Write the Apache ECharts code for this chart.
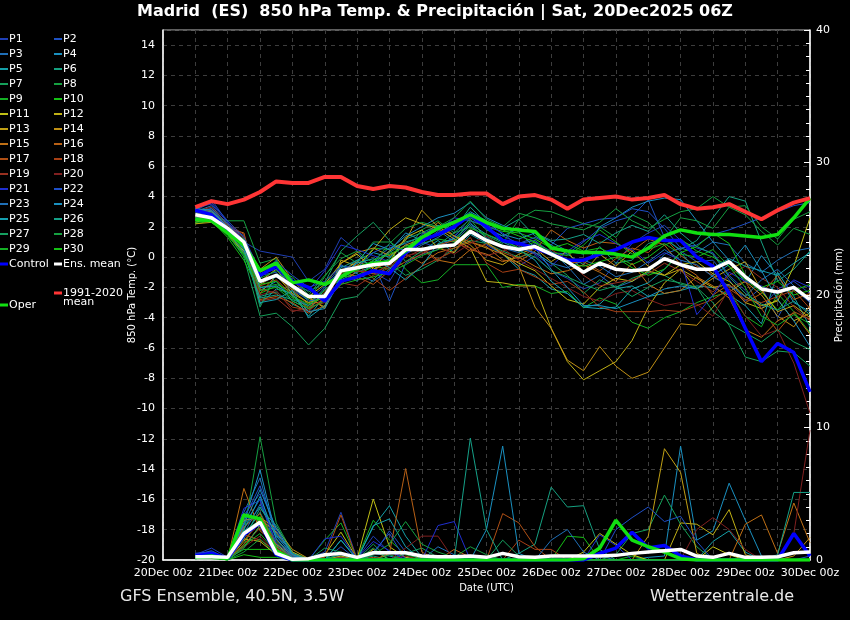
<!DOCTYPE html>
<html><head><meta charset="utf-8">
<script src="https://cdn.jsdelivr.net/npm/echarts@6/dist/echarts.min.js"></script>
<style>html,body{margin:0;padding:0;background:#000}#c{width:850px;height:620px}</style>
</head><body><div id="c"></div>
<script>
// forecast hours since 20Dec 00z
const hours=[12,18,24,30,36,42,48,54,60,66,72,78,84,90,96,102,108,114,120,126,132,138,144,150,156,162,168,174,180,186,192,198,204,210,216,222,228,234,240];
const dateLabels=['20Dec 00z','21Dec 00z','22Dec 00z','23Dec 00z','24Dec 00z','25Dec 00z','26Dec 00z','27Dec 00z','28Dec 00z','29Dec 00z','30Dec 00z'];
const leftTicks=[-20,-18,-16,-14,-12,-10,-8,-6,-4,-2,0,2,4,6,8,10,12,14];
const rightTicks=[0,10,20,30,40];
const memberNames=['P1','P2','P3','P4','P5','P6','P7','P8','P9','P10','P11','P12','P13','P14','P15','P16','P17','P18','P19','P20','P21','P22','P23','P24','P25','P26','P27','P28','P29','P30'];
const memberColors=['#1f3fb5','#1f52c2','#1f6fb8','#1a90c0','#15a0a8','#15a080','#15a05a','#15a040','#15b025','#15c015','#c0c015','#c0b015','#c0a015','#c09015','#c07015','#b86015','#b05015','#a84015','#983020','#802020','#1f2fd0','#1f50c8','#1f70b8','#1a90c0','#15a0b0','#15a088','#15a060','#15a040','#15b025','#15c015'];

// 850 hPa temperature (°C)
const t_P1=[3.1,3.8,2.3,1.0,0.4,0.2,0.0,-1.6,-0.8,1.3,0.4,-1.0,-1.6,0.2,1.0,0.6,1.4,2.3,0.8,0.2,-0.6,0.1,-0.9,-1.4,-2.1,-1.7,-0.4,0.9,1.6,2.1,1.1,0.6,0.3,-1.2,-2.2,-3.4,-2.1,-1.6,-2.4];
const t_P2=[2.9,3.2,2.0,0.9,-1.2,-1.0,-2.2,-2.8,-1.9,-0.6,-0.9,-0.3,-2.9,-0.4,0.2,0.5,1.3,2.6,1.9,1.4,0.9,1.1,0.3,0.2,1.0,1.9,2.4,2.7,3.8,1.3,0.4,-0.3,-0.2,-1.5,-2.9,-2.0,-4.0,-2.1,-3.0];
const t_P3=[3.0,3.4,2.1,1.4,-1.4,-0.2,-2.6,-3.2,-2.0,-0.8,-1.6,-0.2,0.6,0.9,1.4,1.8,1.0,2.1,1.3,0.6,0.3,0.9,0.4,-0.6,-1.8,-1.2,-2.0,-1.6,-1.0,0.2,0.6,0.3,1.0,0.8,-0.4,-1.0,-0.2,0.4,0.6];
const t_P4=[3.2,3.0,1.9,0.6,-2.2,-1.6,-2.9,-3.4,-2.4,-1.2,-0.6,-0.4,0.4,1.6,1.1,1.9,2.2,3.0,2.4,1.5,1.2,1.6,1.0,0.4,0.2,2.0,2.6,3.3,3.7,3.9,3.8,2.4,1.0,-0.2,-1.7,0.1,-1.2,-3.0,-3.6];
const t_P5=[2.8,3.0,1.8,1.1,-3.1,-2.1,-2.4,-3.9,-2.6,-1.0,-0.2,0.3,0.0,0.8,0.4,1.1,0.3,1.5,0.9,0.2,-0.8,-1.2,-2.1,-2.4,-3.3,-3.1,-2.1,-1.9,-2.6,-2.4,-2.2,-1.9,-2.0,-2.5,-3.2,-4.4,-1.0,-2.6,-4.6];
const t_P6=[2.6,2.9,1.7,0.2,-2.6,-2.3,-3.1,-3.6,-2.1,-1.5,-1.0,-0.6,-0.1,1.2,1.6,2.1,1.8,3.3,2.2,1.9,2.5,1.4,0.8,0.2,-0.5,0.7,-0.4,-0.2,0.9,1.2,0.5,1.1,2.6,4.0,3.7,1.0,-1.6,-0.8,0.4];
const t_P7=[2.4,2.6,1.5,0.0,-3.9,-3.7,-4.6,-5.8,-4.7,-2.8,-2.6,-1.5,-0.4,-1.2,-0.8,-0.2,0.6,1.1,0.9,0.4,0.0,0.3,-0.4,-1.2,-2.4,-1.5,-2.0,-1.4,-1.0,-1.2,-1.8,-2.0,-3.0,-4.5,-6.6,-6.9,-6.2,-6.3,-7.2];
const t_P8=[2.5,2.7,2.4,2.4,-0.4,-0.1,-2.0,-2.8,-1.3,0.3,-0.4,1.0,1.0,0.4,1.8,2.4,1.6,2.0,1.4,0.9,2.5,3.1,3.0,2.6,2.2,2.0,1.3,2.8,2.3,1.2,2.6,2.4,1.9,3.3,3.4,2.0,1.2,2.5,3.0];
const t_P9=[2.3,2.5,1.6,0.5,-2.0,-1.8,-2.3,-3.0,-2.2,-1.4,-0.8,0.6,0.5,-0.8,-1.7,-1.5,-0.5,-0.5,-0.5,-2.0,-1.8,-1.9,-2.4,-2.25,-3.35,-2.7,-3.1,-4.3,-4.7,-4.0,-3.6,-3.0,-2.6,-2.3,-3.9,-4.6,-2.4,-3.6,-5.0];
const t_P10=[2.2,2.4,1.3,-0.2,-2.4,-1.9,-2.7,-3.3,-2.5,-1.3,-1.2,-0.6,-0.8,0.6,0.9,1.2,1.0,2.4,2.0,1.7,1.6,1.2,0.6,0.9,0.4,0.6,0.1,-0.5,0.0,0.8,1.2,0.4,0.0,-0.6,-1.5,-2.3,-3.5,-2.2,-1.8];
const t_P11=[2.3,2.6,1.6,0.4,-1.0,-0.4,-2.0,-2.6,-1.8,-0.4,0.2,-0.8,-0.3,1.3,1.8,0.6,0.3,1.8,1.0,0.2,-0.4,-0.9,-1.9,-2.8,-3.1,-2.0,-1.4,-1.6,-0.9,-1.2,-0.5,-0.3,-1.1,-1.6,-2.6,-3.2,-2.9,-0.6,2.6];
const t_P12=[2.4,2.5,1.7,0.7,-1.6,-0.8,-2.1,-2.7,-3.3,-0.2,-0.6,0.5,1.8,2.6,2.2,1.9,1.2,0.6,-1.6,-1.7,-1.9,-1.9,-4.7,-6.9,-8.1,-7.5,-6.9,-5.5,-3.3,-1.7,-0.8,-1.4,-2.0,-1.8,-3.0,-3.4,-2.8,-4.2,-3.7];
const t_P13=[2.2,2.3,1.5,0.3,-1.8,-1.2,-2.4,-3.0,-2.7,-1.0,-0.3,-0.7,0.4,1.1,3.1,2.0,1.4,0.8,-0.2,-0.5,0.2,0.6,-0.3,0.4,-1.0,0.2,-0.6,0.4,-0.6,-1.2,-0.8,-2.1,-1.4,-0.8,-0.3,-2.2,-3.6,-3.2,-4.0];
const t_P14=[2.5,2.9,2.0,1.1,-0.8,0.0,-1.5,-2.6,-3.4,-0.4,0.3,0.6,0.1,0.8,1.2,2.3,1.4,1.0,0.6,0.2,-0.6,-3.3,-4.7,-6.8,-7.5,-5.9,-7.2,-8.0,-7.6,-6.0,-4.4,-4.5,-3.3,-2.3,-1.6,-2.5,-3.9,-4.6,-3.2];
const t_P15=[2.7,2.8,1.9,1.6,-2.4,-1.2,-2.2,-3.1,-2.9,-1.8,-0.9,-1.1,-0.5,0.3,0.6,-0.2,-0.4,0.5,0.2,-0.3,0.0,-0.6,-1.1,-0.9,-0.5,-1.0,-1.6,-0.4,-1.8,-2.4,-2.2,-1.3,-1.9,-2.7,-4.8,-5.3,-4.2,-3.7,-5.1];
const t_P16=[2.6,2.7,1.8,0.8,-2.8,-2.6,-3.0,-3.7,-3.2,-1.6,-1.4,-0.9,-0.2,0.2,-0.4,0.3,0.6,1.0,0.7,-0.2,-0.3,0.4,1.8,1.1,0.6,1.0,0.9,0.4,1.2,0.8,-0.5,-1.2,-2.5,-1.8,-3.0,-2.4,-1.2,-2.8,-2.4];
const t_P17=[2.9,3.1,2.0,1.2,-1.9,-1.5,-2.5,-3.4,-2.3,-0.9,-1.3,-1.8,-0.9,-0.3,0.2,0.8,1.1,0.4,0.9,0.3,-0.1,0.6,0.2,-0.4,-0.3,-0.9,-0.1,0.6,0.3,1.3,0.1,-0.6,-1.2,-2.0,-1.6,-3.4,-4.9,-3.6,-4.1];
const t_P18=[2.8,3.0,2.1,1.3,-2.1,-2.4,-3.3,-3.5,-2.8,-1.1,-0.5,-1.4,-2.2,-1.4,-0.6,-0.1,0.4,1.3,-0.4,-1.0,-0.8,-1.3,-1.8,-1.6,-2.3,-3.3,-3.6,-3.6,-3.6,-3.5,-3.6,-3.2,-2.8,-2.1,-2.8,-3.0,-2.6,-2.2,-3.4];
const t_P19=[3.0,3.3,2.2,1.5,-2.9,-2.7,-3.6,-3.3,-3.0,-1.7,-1.9,-1.2,-0.7,0.0,0.5,-0.3,0.9,0.6,0.1,0.4,0.8,0.2,0.5,-0.2,-1.2,-1.9,-1.7,-1.5,-1.1,-0.4,-0.9,-1.6,-2.3,-1.2,-0.6,-1.4,-2.0,-3.3,-4.2];
const t_P20=[2.7,2.9,1.9,1.0,-2.5,-2.2,-3.5,-3.6,-2.6,-1.2,-0.9,-1.0,-0.6,0.1,0.3,0.7,0.2,0.9,1.4,0.6,-0.2,-0.8,-1.4,-2.0,-2.6,-2.9,-2.4,-2.2,-2.8,-3.2,-3.0,-3.1,-3.9,-2.1,-3.9,-5.2,-4.8,-7.0,-10.3];
const t_P21=[3.3,3.5,2.3,1.1,-1.1,-0.8,-1.9,-2.2,-0.9,0.8,0.5,0.1,-0.3,0.5,0.9,1.7,2.6,2.4,2.1,1.6,0.7,0.2,-0.6,0.4,1.1,1.5,0.9,0.5,-0.4,0.3,-0.2,-3.8,-2.5,-1.0,-1.6,-1.9,-2.4,-1.5,-2.0];
const t_P22=[3.1,3.6,2.4,1.3,-0.9,-0.3,-1.2,-2.0,-1.6,-0.6,-0.7,0.3,0.8,0.4,1.5,2.0,2.4,2.7,2.2,1.0,0.9,1.3,0.8,1.9,2.2,2.5,2.6,3.2,3.0,1.9,0.6,0.8,1.5,1.8,2.2,2.6,3.0,3.4,3.6];
const t_P23=[3.0,3.2,2.2,0.9,-1.7,-1.3,-2.0,-2.9,-2.7,-0.5,-1.1,-1.6,-0.8,0.2,0.8,1.3,2.0,2.9,2.0,1.2,0.6,0.3,-0.4,-0.7,-0.2,-0.6,-1.3,-1.0,-0.3,0.5,-0.2,-0.5,-1.3,-1.9,-2.6,-1.5,-0.8,-1.9,-2.9];
const t_P24=[3.2,3.1,2.0,0.7,-2.0,-1.9,-2.5,-3.6,-3.4,-1.4,-0.3,0.9,0.5,1.4,2.0,2.6,2.9,3.6,2.6,2.1,1.7,0.6,-0.8,-2.0,-3.2,-3.2,-3.4,-3.0,-2.6,-2.1,-1.9,-2.1,-1.2,-0.5,0.8,-0.9,-2.8,-4.2,-5.9];
const t_P25=[2.9,3.0,1.9,0.5,-3.0,-2.8,-2.2,-4.0,-3.2,-1.3,-0.4,-0.1,-0.7,-1.5,-0.6,0.9,1.2,2.2,1.5,1.0,0.5,-0.2,-1.6,-2.4,-3.3,-3.4,-3.3,-2.1,-1.7,-0.8,0.3,-0.9,-0.7,-0.1,-0.6,-0.9,-1.2,-0.4,0.3];
const t_P26=[2.6,2.8,1.7,0.3,-2.7,-2.5,-2.8,-3.2,-2.4,-0.7,-0.2,-0.5,0.3,1.0,1.3,1.5,2.3,2.8,1.8,1.4,1.9,1.6,1.1,1.2,1.5,0.9,1.6,2.1,1.7,2.8,1.6,0.7,0.2,-1.3,-2.4,-3.1,-3.5,-2.9,-3.8];
const t_P27=[2.4,2.5,1.6,0.9,-3.3,-1.1,-1.5,-2.3,-1.7,0.4,1.4,2.3,1.1,-0.3,0.4,0.8,1.6,2.5,1.2,0.8,0.4,0.0,-0.9,-1.3,-1.8,-2.2,-1.9,-2.6,-2.0,-1.5,-1.7,-2.0,-3.6,-4.4,-5.0,-5.6,-4.8,-5.6,-6.1];
const t_P28=[2.5,2.6,1.8,1.2,-1.4,-0.9,-1.3,-2.5,-1.2,-0.1,0.4,-0.4,0.9,1.9,2.3,2.0,2.6,3.7,2.5,2.0,2.9,2.6,2.2,2.0,1.8,2.3,3.2,2.4,1.9,2.5,3.0,3.2,4.0,3.3,2.8,1.7,0.8,1.9,1.5];
const t_P29=[2.3,2.4,1.4,0.2,-2.2,-2.0,-2.9,-3.4,-2.9,-1.8,-1.5,-1.3,-1.0,-0.5,0.1,0.5,0.9,1.9,1.5,1.1,0.6,1.0,0.3,0.1,0.8,1.8,1.0,0.2,0.5,0.9,0.2,0.0,0.5,-0.6,-2.0,-3.9,-4.5,-3.8,-4.4];
const t_P30=[2.4,2.5,1.5,0.1,-1.8,-1.6,-2.6,-3.1,-2.6,-1.0,-0.9,-0.2,0.2,0.7,1.1,1.6,2.1,2.6,2.2,1.8,1.4,1.0,0.1,-0.4,-0.6,-0.3,0.0,-0.7,-1.2,-0.8,0.3,0.7,1.6,0.9,-1.2,-2.0,-1.6,-2.5,-2.2];
const t_Control=[3.1,2.8,1.8,0.8,-1.2,-0.6,-1.6,-2.0,-2.9,-1.6,-1.3,-0.9,-1.1,0.3,1.1,1.5,2.0,2.8,2.0,1.1,0.9,0.6,0.2,-0.2,-0.2,0.2,0.5,1.0,1.3,1.1,1.1,0.0,-0.6,-2.4,-4.7,-6.9,-5.7,-6.3,-8.9];
const t_Mean=[2.8,2.6,1.9,1.0,-1.6,-1.2,-1.9,-2.6,-2.6,-0.9,-0.7,-0.5,-0.4,0.5,0.5,0.7,0.8,1.7,1.1,0.7,0.5,0.7,0.2,-0.3,-1.0,-0.4,-0.8,-0.9,-0.8,-0.1,-0.5,-0.8,-0.8,-0.3,-1.3,-2.1,-2.3,-2.0,-2.8];
const t_Oper=[2.5,2.4,1.6,0.8,-0.9,-0.4,-1.7,-1.5,-1.8,-1.3,-0.7,-0.4,-0.3,0.4,1.3,1.9,2.3,2.8,2.3,1.9,1.8,1.7,0.6,0.4,0.3,0.3,0.2,0.0,0.6,1.4,1.8,1.6,1.5,1.5,1.4,1.3,1.5,2.6,3.9];
const t_Clim=[3.3,3.7,3.5,3.8,4.3,5.0,4.9,4.9,5.3,5.3,4.7,4.5,4.7,4.6,4.3,4.1,4.1,4.2,4.2,3.5,4.0,4.1,3.8,3.2,3.8,3.9,4.0,3.8,3.9,4.1,3.5,3.2,3.3,3.5,3.0,2.5,3.1,3.6,3.9];

// precipitation (mm)
const p_P1=[0.4,0.9,0.2,3.4,5.0,1.0,0.2,0.1,0.6,3.6,0.1,1.8,0.6,0.2,0,0,0,0,0,0,0,0,0,0,0,0,0,0,0,0,0,0,0,0,0,0,0,0,0];
const p_P2=[0.5,0.6,0.1,2.6,4.6,0.8,0,0,0,1.0,0,0.4,2.2,0.6,0,0,0,0,0,0,0,0,0,0,0,0,0,0,0,0,0,0,0,0,0,0,0,0,0.3];
const p_P3=[0.4,0.5,0.2,3.6,6.2,1.6,0.3,0,0.1,0.4,0,0,0,0,0,1.0,0.4,0,0,0,0,0,0,0,0,0.3,0,0,0,0,0,0,0,0,0,0,0,0,0];
const p_P4=[0.3,0.4,0.1,2.8,6.8,1.8,0.4,0.1,0,0.2,0,0.5,0.3,0,0,0,0,0,0,0,0,0,0,0,0,0,0,0,0.2,0.3,8.6,1.5,2.2,5.8,3.0,0.3,0,0,0];
const p_P5=[0.3,0.3,0.1,2.4,4.0,2.0,0.5,0,0,1.5,0.1,2.5,4.1,1.8,0.2,0,0,0,0,0,0,0,0,0,0,0,0,0,0,0,0,0,1.4,2.2,0.6,0,0,0,0];
const p_P6=[0.2,0.3,0,1.8,3.6,1.2,0.2,0,0,0,0,0.3,0,0,0,0,0,0.2,0,0,0.5,1.2,5.5,4.0,4.1,0.8,0,0,0,0,0,0,0,0,0,0,0,0,0];
const p_P7=[0.3,0.2,0.1,2.2,3.0,0.6,0,0,0.9,0.6,0,1.2,0,0.5,0.9,0.2,0,0,0,0,0,0,0,0,0,0,0.4,2.0,2.3,4.9,2.7,1.0,0,0,0,0,0,0,0];
const p_P8=[0.2,0.3,0,2.0,9.3,2.8,0.6,0.1,0,0.3,0,0,0.4,0,0,0,0,0,0,0,0,0,0,0,0,0,0,0,0,0,0,0,0,0,0,0,0,0,0];
const p_P9=[0.1,0.2,0,1.2,3.3,1.4,0.1,0,1.5,2.8,0.1,3.0,1.5,0.4,0.1,0,0,0,0,0,0,0,0,0,0,0,0,0.3,0,0,0,0,0,0,0,0,0,0,0];
const p_P10=[0.2,0.2,0.1,0.8,0.8,0.8,0.2,0,0.3,0,0,0,0,0,0,0,0,0,0,0,0,0,0,1.8,1.7,0,0,0,0,0,0,0,0,0,0,0,0,0,0];
const p_P11=[0.3,0.3,0.1,1.6,1.4,0.4,0.1,0,0.4,2.1,0.1,4.6,1.0,0.2,0,0,0,0,0,0,0,0,0,0,0.6,2.0,1.2,0.4,0,0,0,0,1.0,0.4,0,0,0,0,0];
const p_P12=[0.3,0.4,0.1,1.0,2.6,1.2,0.2,0,0,0,0,0.8,0,0,0,0,0,0,0,0,0,0,0,0,0,0,0,0,0,0,2.8,2.7,1.9,3.8,0.4,0,0,0,0];
const p_P13=[0.2,0.3,0,1.4,3.1,2.1,0.6,0,0,0.3,0,0,0,0,0.2,0,0,0,0,0,0,0,0,0,0,0,0,0,1.8,8.4,6.6,0.5,0,0,0,0,0,0,0];
const p_P14=[0.4,0.5,0.2,3.0,3.2,2.4,0.8,0.1,0,0,0,0,0,0,0,0.3,0,0,0,0,0,0,0,0,0,0,0,0,0,0,0,0,0,0,0,0,0,0.3,1.7];
const p_P15=[0.3,0.3,0.1,5.4,2.2,1.2,0.4,0,0,0,0,0,0,0,0,0,0,0,0,0,0,0,0,0,0,0,0,0,0,0,0,0,0,0,2.7,3.4,0.5,4.3,1.3];
const p_P16=[0.3,0.4,0.1,2.5,3.5,1.0,0.3,0,0,0,0,0,0.5,6.9,0.6,0,0.8,0.2,0,0,0,0,0,0,0,0,0,0,0,0,0,0,0,0,0,0,0,0,0];
const p_P17=[0.2,0.3,0,1.9,1.5,0.7,0.1,0,0.2,3.4,0,0.2,0,0,0,0,0,0.3,0,3.5,2.8,1.0,0,0,0,0,0,0,0,0,0,0,0,0,0,0,0,0,0];
const p_P18=[0.2,0.2,0,1.2,2.4,0.9,0.2,0,0,0,0,0,0,0,0,0,0,0,0,0,1.5,0.8,0.8,0,0,0,0,0,0,0,0,0,0,0,0,0,0,0,0];
const p_P19=[0.3,0.3,0.1,1.5,2.8,1.5,0.3,0,0,0.2,0,0,0,0.3,0,0,0,0,0,0,0,0,0,0,0,0,0,0,0,0,0,0,0,0,0,0,0,0,0];
const p_P20=[0.2,0.3,0,1.0,1.8,0.5,0,0,0,0,0,0,0,0.9,1.8,1.8,0,0,0,0,0,0,0,0,0,0,0,0,0,0,0,2.3,3.2,2.3,0.8,0,0,2.0,9.8];
const p_P21=[0.5,0.6,0.2,3.9,4.5,1.3,0.2,0,1.6,1.8,0.1,1.4,0.7,0,0,2.6,2.9,0,0,0,0,0,0,0,0,1.9,1.1,0,0,0,0,0,0,0,0,0,0,0,0];
const p_P22=[0.4,0.7,0.1,3.1,5.6,2.2,0.5,0,0,0,0,0.6,2.0,0,0,0,0,0,0,0,0,0,0,0,0,0,2.3,3.2,4.0,2.9,3.3,1.4,0,0,0,0,0,0,0];
const p_P23=[0.3,0.5,0.1,2.0,4.2,1.9,0.3,0.1,0,0,0,0,0,0,0,0,0,0,0,0,0,0,1.5,2.3,0.6,0,0,0,0,0,0,0,0,0,0,0,0,0,0];
const p_P24=[0.3,0.4,0.2,2.7,5.3,2.4,0.4,0,0,0,0,0,0,0,0,0,0,0,2.3,8.6,0.5,0,0,0,0,0,0,0,0,0,0,0,0,0,0,0,0,0,0];
const p_P25=[0.2,0.3,0.1,2.3,4.8,1.6,0.2,0,0,1.5,0,2.6,3.1,1.0,0,0,0,0,0,0,0,0,0,0,0,0,0,0,0,0,0,0,0,0,0,0,0,0,0];
const p_P26=[0.2,0.3,0,1.6,3.9,2.6,0.5,0,0,0,0,0,0,0,0,0,0,9.2,2.3,0,0,0,0,0,0,0,0,0,0,0,0,0,0,0,0,0,0.4,5.1,5.1];
const p_P27=[0.1,0.2,0,0.9,2.6,1.1,0.1,0,0,0.5,0,0.9,0,0,0,0,0,0,0,1.5,0.3,0,0,0,0,0,0,0,0,0,0,0,0,0,0,0,0,0,0];
const p_P28=[0.1,0.2,0,0.6,1.6,0.4,0,0,0,0,0,0.4,1.2,2.9,1.2,0.6,0.2,1.0,0.4,0,0,0,0,0,0,0,0,0,0,0,0,0,0,0,0,0,0,0,0];
const p_P29=[0.2,0.2,0,1.1,2.0,0.6,0.1,0,0,0,0,0,0,0,0,0,0,0,0,0,0,0,0,0,0,0,0,0,0,0,0,0,0,0,0,0,0,0,0];
const p_P30=[0.1,0.1,0,0.4,0.2,0.2,0,0,0,0,0,0,0,0,0,0,0,0,0,0,0,0,0,0,0,0,0,0,0,0,0,0,0,0,0,0,0,0,0];
const p_Control=[0.3,0.5,0.1,1.9,2.8,0.4,0,0,0,0,0,0,0,0,0,0,0,0,0,0,0,0,0,0,0,0.5,0.9,2.1,0.9,1.1,0.3,0,0,0,0,0,0,2.0,0.3];
const p_Oper=[0.2,0.3,0.1,3.4,3.1,0.7,0,0,0,0,0,0,0,0,0,0,0,0,0,0,0,0,0,0,0.1,0.9,3.0,1.5,1.0,0.6,0.1,0,0,0,0,0,0,0,0];
const p_Mean=[0.25,0.25,0.2,2.0,2.85,0.5,0.05,0.1,0.4,0.5,0.2,0.55,0.55,0.55,0.3,0.25,0.25,0.3,0.2,0.5,0.25,0.2,0.3,0.3,0.3,0.3,0.35,0.5,0.6,0.7,0.8,0.3,0.2,0.5,0.2,0.2,0.25,0.55,0.6];

const tempMembers=[t_P1,t_P2,t_P3,t_P4,t_P5,t_P6,t_P7,t_P8,t_P9,t_P10,t_P11,t_P12,t_P13,t_P14,t_P15,t_P16,t_P17,t_P18,t_P19,t_P20,t_P21,t_P22,t_P23,t_P24,t_P25,t_P26,t_P27,t_P28,t_P29,t_P30];
const precMembers=[p_P1,p_P2,p_P3,p_P4,p_P5,p_P6,p_P7,p_P8,p_P9,p_P10,p_P11,p_P12,p_P13,p_P14,p_P15,p_P16,p_P17,p_P18,p_P19,p_P20,p_P21,p_P22,p_P23,p_P24,p_P25,p_P26,p_P27,p_P28,p_P29,p_P30];

const FONT='DejaVu Sans';
const pair=a=>hours.map((h,i)=>[h,a[i]]);
function line(name,data,color,width,yi,z){
  return {name:name,type:'line',yAxisIndex:yi,data:pair(data),symbol:'none',showSymbol:false,
    lineStyle:{color:color,width:width},itemStyle:{color:color},z:z,silent:true,animation:false};
}
const series=[];
memberNames.forEach((n,i)=>series.push(line(n,precMembers[i],memberColors[i],1,1,2)));
memberNames.forEach((n,i)=>series.push(line(n,tempMembers[i],memberColors[i],1,0,2)));
series.push(line('Control',p_Control,'#0000ff',3.5,1,3));
series.push(line('Oper',p_Oper,'#11e011',3.5,1,3));
series.push(line('Ens. mean',p_Mean,'#ffffff',3.5,1,4));
series.push(line('Control',t_Control,'#0000ff',3.5,0,3));
series.push(line('Oper',t_Oper,'#11e011',3.5,0,3));
series.push(line('Ens. mean',t_Mean,'#ffffff',3.5,0,4));
series.push(line('1991-2020 mean',t_Clim,'#ff3535',4,0,5));

const oddNames=memberNames.filter((n,i)=>i%2===0);
const evenNames=memberNames.filter((n,i)=>i%2===1);
const legText={color:'#fff',fontSize:11,fontFamily:FONT,lineHeight:15,padding:[0,0,0,-4]};
function leg(names,left,top,h,fmt){
  const o={data:names,orient:'vertical',left:left,top:top,itemWidth:8,itemHeight:h,itemGap:0,padding:0,
    icon:'rect',selectedMode:false,textStyle:legText};
  if(fmt) o.formatter=fmt;
  return o;
}

const chart=echarts.init(document.getElementById('c'),null,{renderer:'canvas'});
chart.setOption({
  backgroundColor:'#000',
  animation:false,
  title:{text:'Madrid  (ES)  850 hPa Temp. & Precipitación | Sat, 20Dec2025 06Z',left:137,top:4,padding:0,
    textStyle:{color:'#fff',fontSize:16,fontWeight:'bold',fontFamily:FONT}},
  legend:[
    leg(oddNames,0,31.5,2),
    leg(evenNames,54,31.5,2),
    leg(['Control'],0,256.5,3),
    leg(['Ens. mean'],54,256.5,3),
    leg(['Oper'],0,297.5,3),
    leg(['1991-2020 mean'],54,285.5,3,function(){return '1991-2020';})
  ],
  graphic:[
    {type:'text',left:63,top:297,style:{text:'mean',fill:'#fff',font:'11px "DejaVu Sans"'}},
    {type:'text',left:120,top:589,style:{text:'GFS Ensemble, 40.5N, 3.5W',fill:'#e8e8e8',font:'16px "DejaVu Sans"'}},
    {type:'text',left:650,top:589,style:{text:'Wetterzentrale.de',fill:'#e8e8e8',font:'16px "DejaVu Sans"'}}
  ],
  grid:{left:163,right:40,top:30,bottom:60,outerBoundsMode:'none',containLabel:false,show:true,borderColor:'#bdbdbd',borderWidth:1,backgroundColor:'transparent'},
  xAxis:{type:'value',min:0,max:240,interval:12,
    name:'Date (UTC)',nameLocation:'middle',nameGap:23,nameMoveOverlap:false,nameTextStyle:{color:'#fff',fontSize:10,fontFamily:FONT},
    axisLine:{show:true,onZero:false,lineStyle:{color:'#fff',width:1.5}},axisTick:{show:false},
    axisLabel:{color:'#fff',fontSize:11,fontFamily:FONT,margin:8,showMaxLabel:true,showMinLabel:true,
      formatter:function(v){return v%24===0?dateLabels[v/24]:'';}},
    splitLine:{show:true,lineStyle:{color:'#3d3d3d',type:[4,4],width:1}}},
  yAxis:[
    {type:'value',min:-20,max:15,interval:2,position:'left',
      name:'850 hPa Temp. (°C)',nameLocation:'middle',nameGap:26,nameRotate:90,nameMoveOverlap:false,
      nameTextStyle:{color:'#fff',fontSize:10,fontFamily:FONT},
      axisLine:{show:true,onZero:false,lineStyle:{color:'#fff',width:1.5}},axisTick:{show:false},
      axisLabel:{color:'#fff',fontSize:11,fontFamily:FONT,margin:8,showMaxLabel:false,
        formatter:function(v){return leftTicks.indexOf(v)>=0?String(v):'';}},
      splitLine:{show:true,lineStyle:{color:'#3d3d3d',type:[4,4],width:1}}},
    {type:'value',min:0,max:40,interval:10,position:'right',
      name:'Precipitación (mm)',nameLocation:'middle',nameGap:24,nameRotate:90,nameMoveOverlap:false,
      nameTextStyle:{color:'#fff',fontSize:10,fontFamily:FONT},
      axisLine:{show:true,onZero:false,lineStyle:{color:'#fff',width:1.5}},
      axisTick:{show:true,inside:true,length:6,lineStyle:{color:'#fff'}},
      minorTick:{show:true,splitNumber:10,length:4,lineStyle:{color:'#fff'}},
      axisLabel:{color:'#fff',fontSize:11,fontFamily:FONT,margin:6,
        formatter:function(v){return rightTicks.indexOf(v)>=0?String(v):'';}},
      splitLine:{show:false}}
  ],
  series:series
});
</script></body></html>
